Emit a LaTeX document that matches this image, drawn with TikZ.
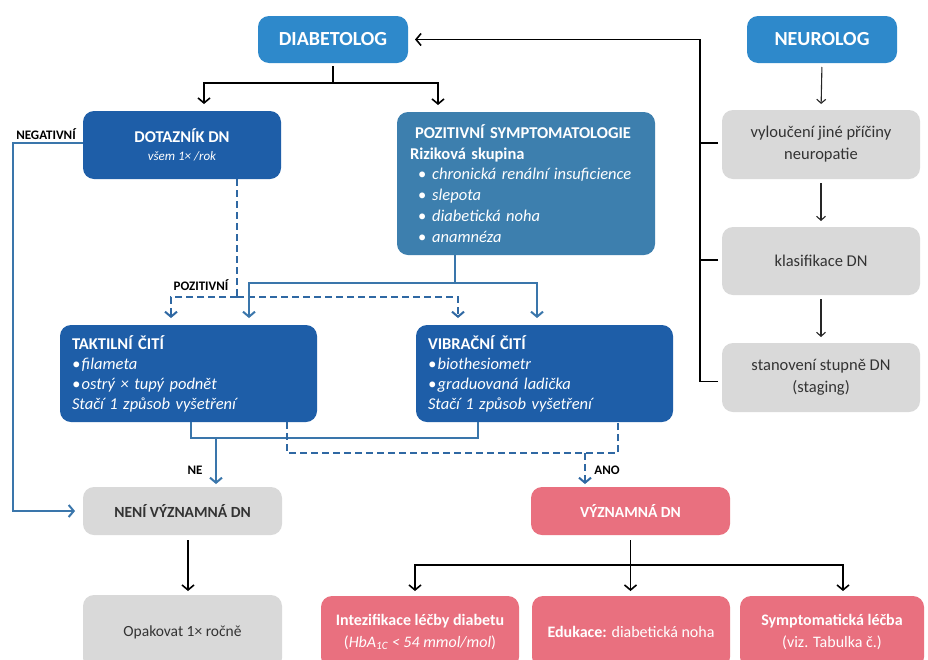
\documentclass[tikz,border=0pt]{standalone}
\usepackage{fontspec}
\setmainfont{Carlito}
\usetikzlibrary{arrows.meta}
\definecolor{cTop}{HTML}{2E89CB}
\definecolor{cDark}{HTML}{1E5EA8}
\definecolor{cMid}{HTML}{3D7FAE}
\definecolor{cGray}{HTML}{D9D9D9}
\definecolor{cPink}{HTML}{E9707F}
\definecolor{cLine}{HTML}{3A76AB}
\definecolor{cDash}{HTML}{2F68A3}
\definecolor{cTxt}{HTML}{333333}
\begin{document}
\begin{tikzpicture}[x=1pt,y=-1pt,
  box/.style={rounded corners=11pt,inner sep=0pt,outer sep=0pt,align=center},
  topbox/.style={box,fill=cTop,text=white,minimum width=150pt,minimum height=47pt,font=\fontsize{20}{24}\selectfont\bfseries},
  darkbox/.style={box,fill=cDark,text=white},
  graybox/.style={box,fill=cGray,text=cTxt,minimum width=198pt,font=\fontsize{16.5}{22}\selectfont},
  pinkbox/.style={box,fill=cPink,text=white,minimum height=72pt,font=\fontsize{16}{22}\selectfont},
  lbl/.style={inner sep=0pt,text=black,font=\fontsize{13}{15}\selectfont\bfseries},
  blk/.style={draw=black,line width=1.6pt},
  nthin/.style={draw=black!85,line width=1.1pt,-{Straight Barb[length=4pt,width=9pt]},shorten <=4pt,shorten >=6pt},
  bl/.style={draw=cLine,line width=2pt},
  bld/.style={draw=cDash,line width=2pt,dash pattern=on 7pt off 4pt},
  arrB/.style={-{Straight Barb[length=5pt,width=12pt]}},
]
\useasboundingbox (0,0) rectangle (928,659);
\clip (0,0) rectangle (928,659);
\fill[white] (0,0) rectangle (928,659);

% ---- boxes ----
\node[topbox] (diab) at (333,39.5) {DIABETOLOG};
\node[topbox] (neuro) at (822,39.5) {NEUROLOG};

\node[darkbox,minimum width=198pt,minimum height=68pt,font=\fontsize{16.5}{18}\selectfont] (dot) at (182,145)
  {\textbf{DOTAZNÍK DN}\\
   {\fontsize{13}{15}\selectfont\itshape všem 1× /rok}};

\node[box,fill=cMid,text=white,minimum width=258pt,minimum height=143pt,
      text width=232pt,align=left,font=\fontsize{16.5}{20.8}\selectfont] (poz) at (526,183.5)
  {\hspace*{5pt}\textbf{POZITIVNÍ SYMPTOMATOLOGIE}\\
   \textbf{Riziková skupina}\\
   \hspace*{8pt}•\hspace{6pt}\textit{chronická renální insuficience}\\
   \hspace*{8pt}•\hspace{6pt}\textit{slepota}\\
   \hspace*{8pt}•\hspace{6pt}\textit{diabetická noha}\\
   \hspace*{8pt}•\hspace{6pt}\textit{anamnéza}};

\node[graybox,minimum height=69pt] (g1) at (821,144.5) {vyloučení jiné příčiny\\neuropatie};
\node[graybox,minimum height=68pt] (g2) at (821,261) {klasifikace DN};
\node[graybox,minimum height=69pt] (g3) at (821,377.5) {stanovení stupně DN\\(staging)};

\node[darkbox,minimum width=257pt,minimum height=97pt,text width=233pt,align=left,
      font=\fontsize{16.5}{20}\selectfont] (takt) at (188.5,373.5)
  {\textbf{TAKTILNÍ ČITÍ}\\
   \textit{•\kern1.5pt filameta}\\
   \textit{•\kern1.5pt ostrý × tupý podnět}\\
   \textit{Stačí 1 způsob vyšetření}};

\node[darkbox,minimum width=257pt,minimum height=97pt,text width=233pt,align=left,
      font=\fontsize{16.5}{20}\selectfont] (vib) at (544.5,373.5)
  {\textbf{VIBRAČNÍ ČITÍ}\\
   \textit{•\kern1.5pt biothesiometr}\\
   \textit{•\kern1.5pt graduovaná ladička}\\
   \textit{Stačí 1 způsob vyšetření}};

\node[graybox,minimum width=199pt,minimum height=48pt,font=\fontsize{15.5}{18}\selectfont\bfseries] (neni) at (182.5,511) {NENÍ VÝZNAMNÁ DN};
\node[graybox,minimum width=199pt,minimum height=74pt,font=\fontsize{15.5}{18}\selectfont] (opak) at (182.5,632) {Opakovat 1× ročně};

\node[pinkbox,minimum width=199pt,minimum height=48pt,font=\fontsize{15.5}{18}\selectfont\bfseries] (vyz) at (630.5,511) {VÝZNAMNÁ DN};
\node[pinkbox,minimum width=198pt] (intz) at (420,632)
  {\textbf{Intezifikace léčby diabetu}\\(\textit{HbA\textsubscript{1C} < 54 mmol/mol})};
\node[pinkbox,minimum width=198pt] (eduk) at (631,632) {\textbf{Edukace:} diabetická noha};
\node[pinkbox,minimum width=184pt] (symp) at (832,632) {\textbf{Symptomatická léčba}\\(viz. Tabulka č.)};

% ---- labels ----
\node[lbl] (negl) at (46,134) {NEGATIVNÍ};
\node[lbl] (posl) at (201,285) {POZITIVNÍ};
\node[lbl] (nel) at (195,470) {NE};
\node[lbl] (anol) at (607,470) {ANO};

% ---- black connectors (top) ----
\coordinate (dj) at (333,83);
\draw[blk,shorten <=3pt] (diab.south) -- (dj);
\draw[blk,arrB,shorten >=7pt] (dj) -| ([xshift=22pt]dot.north);
\draw[blk,arrB,shorten >=7pt] (dj) -| ([xshift=-88pt]poz.north);

% ---- neurolog column ----
\draw[nthin] (neuro.south) -- (g1.north);
\draw[nthin] (g1.south) -- (g2.north);
\draw[nthin] (g2.south) -- (g3.north);
\coordinate (br) at (700,39.5);
\draw[blk,arrB,shorten >=7pt] ([xshift=-4pt,yshift=-4pt]g3.west) -| (br) -- (diab.east);
\draw[blk] ([xshift=-4pt,yshift=1.5pt]g1.west) -- ([yshift=1.5pt]g1.west -| br);
\draw[blk] ([xshift=-4pt,yshift=1pt]g2.west) -- ([yshift=1pt]g2.west -| br);

% ---- negative ----
\coordinate (nl) at (13,300);
\draw[bl,arrB,shorten >=8pt] ([yshift=2pt]dot.west) -| (nl) |- (neni.west);

% ---- dashed from questionnaire ----
\coordinate (pj) at (237,297);
\draw[bld] ([xshift=55pt]dot.south) -- (pj);
\draw[bld,arrB,shorten >=7pt] (pj) -| ([xshift=-17.5pt]takt.north);
\draw[bld,arrB,shorten >=7pt] (pj) -| ([xshift=-86.5pt]vib.north);

% ---- solid from symptomatology ----
\coordinate (sj) at (455,283);
\draw[bl] ([xshift=-71pt]poz.south) -- (sj);
\draw[bl,arrB,shorten >=7pt] (sj) -| ([xshift=60.5pt]takt.north);
\draw[bl,arrB,shorten >=7pt] (sj) -| ([xshift=-7.5pt]vib.north);

% ---- NE ----
\coordinate (nj) at (216,438);
\draw[bl] ([xshift=2.5pt]takt.south) |- (nj) -| ([xshift=-66.5pt]vib.south);
\draw[bl,arrB,shorten >=3pt] (nj) -- (nj |- neni.north);

% ---- ANO ----
\coordinate (aj) at (585,453);
\draw[bld] ([xshift=98.5pt]takt.south) |- (aj) -| ([xshift=73.5pt]vib.south);
\draw[bld,arrB,shorten >=3pt] (aj) -- (aj |- vyz.north);

% ---- bottom ----
\draw[blk,arrB,shorten <=5pt,shorten >=4pt] ([xshift=5.5pt]neni.south) -- ([xshift=5.5pt]opak.north);
\coordinate (vj) at (630.5,565);
\draw[blk,shorten <=5pt] (vyz.south) -- (vj);
\draw[blk,arrB,shorten >=5pt] (vj) -| ([xshift=-5pt]intz.north);
\draw[blk,arrB,shorten >=5pt] (vj) -- (vj |- eduk.north);
\draw[blk,arrB,shorten >=5pt] (vj) -| ([xshift=11pt]symp.north);
\end{tikzpicture}
\end{document}
